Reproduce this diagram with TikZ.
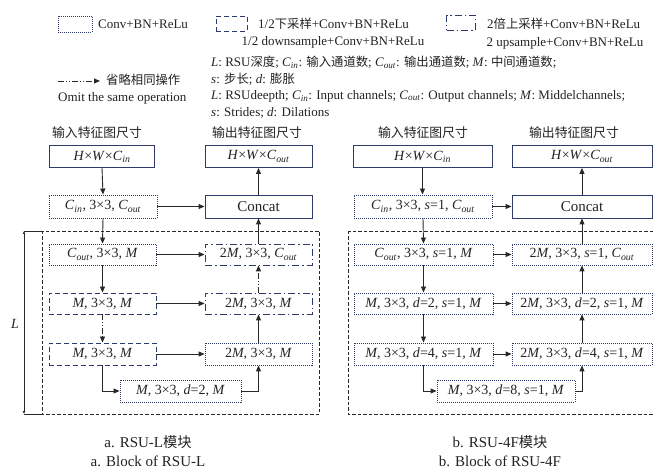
\documentclass[tikz,border=0pt]{standalone}
\usepackage{fontspec}
\setmainfont{Liberation Serif}
\newfontfamily\cjk[Scale=0.95]{Noto Sans CJK SC}
\usetikzlibrary{arrows.meta}
\newcommand\zh[1]{{\cjk #1}}
\newcommand\Cin{\textit{C}\textsubscript{\textit{in}}}
\newcommand\Cout{\textit{C}\textsubscript{\textit{out}}}
\definecolor{navy}{RGB}{46,58,105}
\definecolor{lin}{RGB}{40,40,40}
\definecolor{txt}{RGB}{35,35,35}
\begin{document}
\begin{tikzpicture}[x=1pt,y=-1pt,
  basebox/.style={draw=navy, line width=0.9pt, minimum height=22pt, inner sep=0pt, text=txt, font=\fontsize{14}{16}\selectfont},
  solidbox/.style={basebox},
  dotbox/.style={basebox, dash pattern=on 1pt off 1pt},
  dashbox/.style={basebox, dash pattern=on 5pt off 3pt},
  ddbox/.style={basebox, dash pattern=on 7pt off 3pt on 1.5pt off 3pt},
  arr/.style={draw=lin, line width=0.9pt, -{Triangle[length=6pt,width=5pt]}},
  omitarr/.style={arr, dash pattern=on 6pt off 2pt on 1pt off 2pt on 1pt off 2pt},
  bigdash/.style={draw=lin, line width=0.9pt, dash pattern=on 3.5pt off 2pt},
  legtext/.style={text=txt, font=\fontsize{13}{15}\selectfont, inner sep=0pt},
  hdr/.style={text=txt, font=\fontsize{13.5}{15}\selectfont, inner sep=0pt},
  captext/.style={text=txt, font=\fontsize{15}{17}\selectfont, inner sep=0pt},
  dimarr/.style={draw=lin, line width=0.9pt, {Latex[length=3pt,width=3pt]}-{Latex[length=3pt,width=3pt]}}
]
\useasboundingbox (0,0) rectangle (654,473);
\clip (0,0) rectangle (654,473);
\fill[white] (0,0) rectangle (654,473);

% ---------- legend ----------
\node[dotbox, minimum width=34pt, minimum height=16pt] (lg1) at (75,24) {};
\node[legtext, anchor=west] (lg1t) at (98,24) {Conv+BN+ReLu};
\node[dashbox, minimum width=31pt, minimum height=15pt] (lg2) at (231.5,23.5) {};
\node[legtext, anchor=west] (lg2t) at (258,24) {1/2\zh{下采样}+Conv+BN+ReLu};
\node[legtext] (lg2e) at (333,42) {1/2 downsample+Conv+BN+ReLu};
\node[ddbox, minimum width=29pt, minimum height=15pt] (lg3) at (461,23) {};
\node[legtext, anchor=west] (lg3t) at (487,24) {2\zh{倍上采样}+Conv+BN+ReLu};
\node[legtext] (lg3e) at (565,43) {2 upsample+Conv+BN+ReLu};
\coordinate (la1) at (58,81);
\coordinate (la2) at (100,81);
\draw[omitarr] (la1) -- (la2);
\node[legtext, anchor=west] (lat) at (106,80) {\zh{省略相同操作}};
\node[legtext, anchor=west] (late) at (58,98) {Omit the same operation};
\node[legtext, anchor=west] (d1) at (211,62) {\textit{L}: RSU\zh{深度}; \Cin: \zh{输入通道数}; \Cout: \zh{输出通道数}; \textit{M}: \zh{中间通道数};};
\node[legtext, anchor=west] (d2) at (211,79) {\textit{s}: \zh{步长}; \textit{d}: \zh{膨胀}};
\node[legtext, anchor=west] (d3) at (211,96) {\textit{L}: RSUdeepth; \Cin: Input channels; \Cout: Output channels; \textit{M}: Middelchannels;};
\node[legtext, anchor=west] (d4) at (211,113) {\textit{s}: Strides; \textit{d}: Dilations};

% ---------- left diagram ----------
\node[hdr] (hL1) at (97,133) {\zh{输入特征图尺寸}};
\node[hdr] (hL2) at (257,133) {\zh{输出特征图尺寸}};
\coordinate (bxL1) at (42,231);
\coordinate (bxL2) at (319,414);
\draw[bigdash] (bxL1) rectangle (bxL2);
\node[solidbox, minimum width=105pt] (inL) at (102,156.5) {\textit{H}×\textit{W}×\Cin};
\node[solidbox, minimum width=107pt] (outL) at (258.5,156.5) {\textit{H}×\textit{W}×\Cout};
\node[dotbox, minimum width=108pt, minimum height=23pt] (cinL) at (103,206.5) {\Cin, 3×3, \Cout};
\node[solidbox, minimum width=107pt, minimum height=23pt, font=\fontsize{15}{17}\selectfont] (conL) at (258.5,206.5) {Concat};
\node[dotbox, minimum width=107pt, minimum height=21pt] (L1) at (102.5,254.5) {\Cout, 3×3, \textit{M}};
\node[ddbox, minimum width=107pt, minimum height=21pt] (R1) at (258.5,254.5) {2\textit{M}, 3×3, \Cout};
\node[dashbox, minimum width=107pt, minimum height=21pt] (L2) at (102.5,303.5) {\textit{M}, 3×3, \textit{M}};
\node[ddbox, minimum width=107pt, minimum height=21pt] (R2) at (258.5,303.5) {2\textit{M}, 3×3, \textit{M}};
\node[dashbox, minimum width=107pt] (L3) at (102.5,354) {\textit{M}, 3×3, \textit{M}};
\node[dotbox, minimum width=107pt] (R3) at (258.5,354) {2\textit{M}, 3×3, \textit{M}};
\node[dotbox, minimum width=121pt] (BL) at (180.5,391) {\textit{M}, 3×3, \textit{d}=2, \textit{M}};

\draw[arr] (inL.south) -- (cinL.north);
\draw[arr] (cinL.east) -- (conL.west);
\draw[arr] (conL.north) -- (outL.south);
\draw[arr] (cinL.south) -- (L1.north);
\draw[arr] (L1.south) -- (L2.north);
\draw[omitarr] (L2.south) -- (L3.north);
\draw[arr] (L3.south) |- (BL.west);
\draw[arr] (BL.east) -| (R3.south);
\draw[arr] (R3.north) -- (R2.south);
\draw[omitarr] (R2.north) -- (R1.south);
\draw[arr] (R1.north) -- (conL.south);
\draw[arr] (L1.east) -- (R1.west);
\draw[arr] (L2.east) -- (R2.west);
\draw[arr] (L3.east) -- (R3.west);

\coordinate (dt) at (24,231);
\coordinate (db) at (24,414);
\draw[dimarr] (dt) -- (db);
\draw[draw=lin, line width=0.9pt] (dt) -- (dt -| bxL1);
\draw[draw=lin, line width=0.9pt] (db) -- (db -| bxL1);
\node[hdr, font=\fontsize{14}{16}\selectfont\itshape] (Llab) at (15,324) {L};

% ---------- right diagram ----------
\node[hdr] (hR1) at (423,133) {\zh{输入特征图尺寸}};
\node[hdr] (hR2) at (574,133) {\zh{输出特征图尺寸}};
\coordinate (bxR1) at (348,231);
\coordinate (bxR2) at (664,414);
\draw[bigdash] (bxR1) rectangle (bxR2);
\node[solidbox, minimum width=139pt] (inR) at (422.5,156.5) {\textit{H}×\textit{W}×\Cin};
\node[solidbox, minimum width=140pt] (outR) at (582,156.5) {\textit{H}×\textit{W}×\Cout};
\node[dotbox, minimum width=138pt, minimum height=23pt] (cinR) at (423,206.5) {\Cin, 3×3, \textit{s}=1, \Cout};
\node[solidbox, minimum width=140pt, minimum height=23pt, font=\fontsize{15}{17}\selectfont] (conR) at (582,206.5) {Concat};
\node[dotbox, minimum width=139pt, minimum height=21pt] (rL1) at (423.5,254.5) {\Cout, 3×3, \textit{s}=1, \textit{M}};
\node[dotbox, minimum width=140pt, minimum height=21pt] (rR1) at (582,254.5) {2\textit{M}, 3×3, \textit{s}=1, \Cout};
\node[dotbox, minimum width=139pt, minimum height=21pt] (rL2) at (423.5,303.5) {\textit{M}, 3×3, \textit{d}=2, \textit{s}=1, \textit{M}};
\node[dotbox, minimum width=140pt, minimum height=21pt] (rR2) at (582,303.5) {2\textit{M}, 3×3, \textit{d}=2, \textit{s}=1, \textit{M}};
\node[dotbox, minimum width=139pt] (rL3) at (423.5,354) {\textit{M}, 3×3, \textit{d}=4, \textit{s}=1, \textit{M}};
\node[dotbox, minimum width=140pt] (rR3) at (582,354) {2\textit{M}, 3×3, \textit{d}=4, \textit{s}=1, \textit{M}};
\node[dotbox, minimum width=138pt] (BR) at (506,391) {\textit{M}, 3×3, \textit{d}=8, \textit{s}=1, \textit{M}};

\draw[arr] (inR.south) -- (inR.south |- cinR.north);
\draw[arr] (cinR.east) -- (conR.west);
\draw[arr] (conR.north) -- (outR.south);
\draw[arr] (cinR.south) -- (rL1.north);
\draw[arr] (rL1.south) -- (rL2.north);
\draw[arr] (rL2.south) -- (rL3.north);
\draw[arr] (rL3.south) |- (BR.west);
\draw[arr] (BR.east) -| (rR3.south);
\draw[arr] (rR3.north) -- (rR2.south);
\draw[arr] (rR2.north) -- (rR1.south);
\draw[arr] (rR1.north) -- (conR.south);
\draw[arr] (rL1.east) -- (rR1.west);
\draw[arr] (rL2.east) -- (rR2.west);
\draw[arr] (rL3.east) -- (rR3.west);

% ---------- captions ----------
\node[captext] (ca1) at (148,442) {a. RSU-L\zh{模块}};
\node[captext] (ca2) at (148,461) {a. Block of RSU-L};
\node[captext] (cb1) at (500,442) {b. RSU-4F\zh{模块}};
\node[captext] (cb2) at (500,461) {b. Block of RSU-4F};
\end{tikzpicture}
\end{document}
